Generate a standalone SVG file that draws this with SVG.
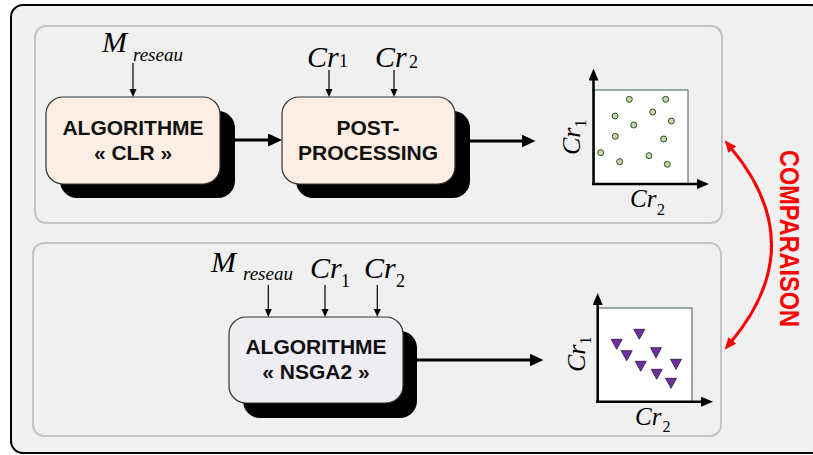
<svg xmlns="http://www.w3.org/2000/svg" width="813" height="455" viewBox="0 0 813 455">
<style>
.panel{fill:#f0f0f0;stroke:#c4c4c4;stroke-width:2}
.shadow{fill:#000}
.box{stroke:#333;stroke-width:1.2}
.peach{fill:#fdeee3}
.lav{fill:#efedf3}
.btxt{font-family:"Liberation Sans",Arial,sans-serif;font-weight:bold;font-size:21px;fill:#111;text-anchor:middle}
.math{font-family:"Liberation Serif","Times New Roman",serif;font-style:italic;fill:#000}
.sub{font-style:normal}
.thick{stroke:#000;stroke-width:3;fill:none}
.thin{stroke:#000;stroke-width:1.2;fill:none}
.axis{stroke:#000;stroke-width:2.5;fill:none}
.frame{fill:#fff;stroke:#3d5f4a;stroke-width:1}
.pt{fill:#c9d4a2;stroke:#2e4d30;stroke-width:1}
.tri{fill:#7030a0;stroke:#2a1040;stroke-width:0.8}
.red{stroke:#ff0000;stroke-width:3;fill:none}
</style>
<defs>
<marker id="mThick" markerUnits="userSpaceOnUse" markerWidth="14" markerHeight="13" refX="2" refY="6.5" orient="auto"><path d="M0,0 L14,6.5 L0,13 z" fill="#000"/></marker>
<marker id="mThin" markerUnits="userSpaceOnUse" markerWidth="8" markerHeight="8" refX="1" refY="3.5" orient="auto"><path d="M0,0 L8,3.5 L0,7 z" fill="#000"/></marker>
<marker id="mAxis" markerUnits="userSpaceOnUse" markerWidth="12" markerHeight="10" refX="1" refY="5" orient="auto"><path d="M0,0 L12,5 L0,10 z" fill="#000"/></marker>
<marker id="mRed" markerUnits="userSpaceOnUse" markerWidth="12" markerHeight="10" refX="2" refY="5" orient="auto-start-reverse"><path d="M0,0 L12,5 L0,10 z" fill="#ff0000"/></marker>
</defs>

<rect x="11" y="5" width="812" height="448" rx="12" fill="#f0f0f0" stroke="#000" stroke-width="2"/>

<g id="panel-top"><rect class="panel" x="35" y="26" width="687" height="197" rx="11"/></g>
<g id="panel-bottom"><rect class="panel" x="33" y="243" width="688" height="193" rx="11"/></g>

<g id="node-clr">
<rect class="shadow" x="60" y="111" width="175" height="87" rx="17"/>
<rect class="box peach" x="46" y="97" width="174" height="87" rx="17"/>
<text class="btxt" x="133" y="135">ALGORITHME</text>
<text class="btxt" x="133" y="160">« CLR »</text>
</g>

<g id="node-post">
<rect class="shadow" x="296" y="111" width="174" height="87" rx="17"/>
<rect class="box peach" x="282" y="97" width="173" height="87" rx="17"/>
<text class="btxt" x="368" y="135">POST-</text>
<text class="btxt" x="368" y="160">PROCESSING</text>
</g>

<g id="node-nsga2">
<rect class="shadow" x="243" y="331" width="174" height="87" rx="17"/>
<rect class="box lav" x="229" y="317" width="174" height="86" rx="17"/>
<text class="btxt" x="316" y="354">ALGORITHME</text>
<text class="btxt" x="316" y="379">« NSGA2 »</text>
</g>

<g id="labels-top">
<text class="math" font-size="30" x="102" y="52">M</text>
<text class="math" font-size="19" x="133" y="61">reseau</text>
<text class="math" font-size="30" x="307" y="67">Cr</text>
<text class="math sub" font-size="18" x="339" y="67">1</text>
<text class="math" font-size="30" x="375" y="67">Cr</text>
<text class="math sub" font-size="18" x="409" y="68">2</text>
</g>

<g id="labels-bottom">
<text class="math" font-size="30" x="211" y="272">M</text>
<text class="math" font-size="19" x="243" y="280">reseau</text>
<text class="math" font-size="30" x="310" y="278">Cr</text>
<text class="math sub" font-size="18" x="341" y="287">1</text>
<text class="math" font-size="30" x="364" y="278">Cr</text>
<text class="math sub" font-size="18" x="396" y="287">2</text>
</g>

<g id="plot-clr">
<rect class="frame" x="594" y="90" width="94" height="94"/>
<line class="axis" x1="593.5" y1="185" x2="593.5" y2="79.5" marker-end="url(#mAxis)"/>
<line class="axis" x1="592" y1="184" x2="698" y2="184" marker-end="url(#mAxis)"/>
<circle class="pt" cx="629.3" cy="99.3" r="3"/>
<circle class="pt" cx="665.7" cy="99.3" r="3"/>
<circle class="pt" cx="615" cy="116" r="3"/>
<circle class="pt" cx="652.7" cy="112" r="3"/>
<circle class="pt" cx="633.7" cy="125" r="3"/>
<circle class="pt" cx="671.3" cy="121" r="3"/>
<circle class="pt" cx="615.3" cy="136.3" r="3"/>
<circle class="pt" cx="663.7" cy="139" r="3"/>
<circle class="pt" cx="600.7" cy="152.7" r="3"/>
<circle class="pt" cx="619.7" cy="161.7" r="3"/>
<circle class="pt" cx="649" cy="155.7" r="3"/>
<circle class="pt" cx="667.3" cy="164.3" r="3"/>
<text class="math" font-size="25" x="630" y="207">Cr</text>
<text class="math sub" font-size="16" x="657" y="215">2</text>
<text class="math" font-size="26" transform="translate(580,155) rotate(-90)">Cr<tspan class="sub" font-size="16" dy="6">1</tspan></text>
</g>

<g id="plot-nsga2">
<rect class="frame" x="598" y="308" width="94" height="94"/>
<line class="axis" x1="597.7" y1="403" x2="597.7" y2="304" marker-end="url(#mAxis)"/>
<line class="axis" x1="596" y1="401.7" x2="702" y2="401.7" marker-end="url(#mAxis)"/>
<g class="tri">
<path d="M633.8,329.3 h11 l-5.5,10 z"/>
<path d="M611.2,339.3 h11 l-5.5,10 z"/>
<path d="M621.2,350.7 h11 l-5.5,10 z"/>
<path d="M650.5,347.7 h11 l-5.5,10 z"/>
<path d="M635.2,361.3 h11 l-5.5,10 z"/>
<path d="M670.5,359.3 h11 l-5.5,10 z"/>
<path d="M651.2,369.3 h11 l-5.5,10 z"/>
<path d="M665.5,378.3 h11 l-5.5,10 z"/>
</g>
<text class="math" font-size="25" x="635" y="425">Cr</text>
<text class="math sub" font-size="16" x="662.5" y="432">2</text>
<text class="math" font-size="26" transform="translate(585,372) rotate(-90)">Cr<tspan class="sub" font-size="16" dy="6">1</tspan></text>
</g>

<g id="connectors">
<line class="thin" x1="133" y1="63" x2="133" y2="90" marker-end="url(#mThin)"/>
<line class="thin" x1="329" y1="70" x2="329" y2="90" marker-end="url(#mThin)"/>
<line class="thin" x1="394" y1="70" x2="394" y2="90" marker-end="url(#mThin)"/>
<line class="thin" x1="268.3" y1="285" x2="268.3" y2="310" marker-end="url(#mThin)"/>
<line class="thin" x1="325" y1="285" x2="325" y2="310" marker-end="url(#mThin)"/>
<line class="thin" x1="377.3" y1="285" x2="377.3" y2="310" marker-end="url(#mThin)"/>
<line class="thick" x1="235" y1="140" x2="270" y2="140" marker-end="url(#mThick)"/>
<line class="thick" x1="470" y1="141" x2="523.5" y2="141" marker-end="url(#mThick)"/>
<line class="thick" x1="417" y1="360" x2="531.5" y2="360" marker-end="url(#mThick)"/>
<path class="red" d="M731,148 Q812,245 731,342" marker-start="url(#mRed)" marker-end="url(#mRed)"/>
</g>

<g id="label-comparaison">
<text transform="translate(780,238.5) rotate(90)" font-family="'Liberation Sans',Arial,sans-serif" font-weight="bold" font-size="27" fill="#ff0000" text-anchor="middle" textLength="177" lengthAdjust="spacingAndGlyphs">COMPARAISON</text>
</g>
</svg>
